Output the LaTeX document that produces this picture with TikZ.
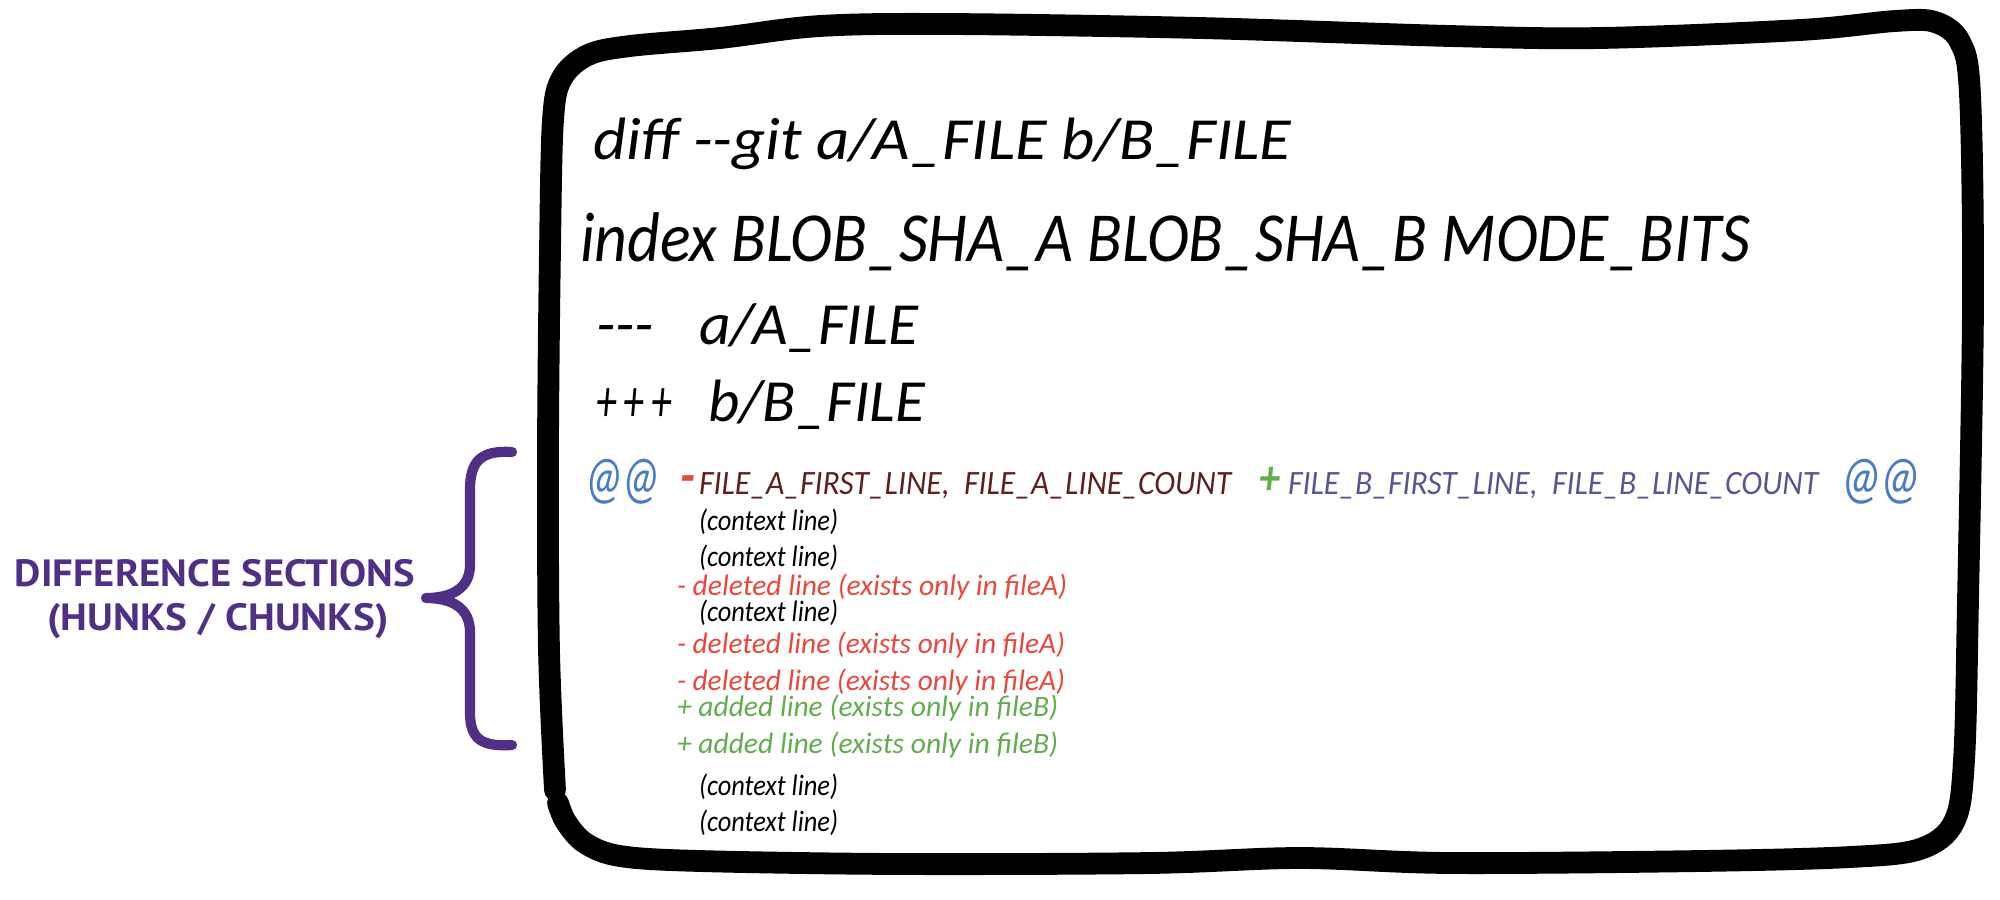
\documentclass[tikz,border=0pt]{standalone}
\usepackage{fontspec}
\usepackage{graphicx}
\setmainfont{Carlito}
\newfontfamily\labelfont{PT Sans}
\newcommand{\fitw}[2]{\resizebox{#1}{\height}{#2}}
\definecolor{hunkpurple}{RGB}{80,48,134}
\definecolor{atblue}{RGB}{74,124,196}
\definecolor{delred}{RGB}{232,72,60}
\definecolor{addgreen}{RGB}{98,172,78}
\definecolor{fileamaroon}{RGB}{92,32,30}
\definecolor{filebslate}{RGB}{86,86,146}

\begin{document}
\begin{tikzpicture}[x=0.01cm, y=-0.01cm,
    every node/.style={inner sep=0pt, outer sep=0pt, anchor=base west},
    hand/.style={font=\fontsize{#1}{#1}\selectfont\itshape},
    small/.style={hand=8.4pt, anchor=west},
    hunklabel/.style={font=\fontsize{10.8pt}{12pt}\selectfont\labelfont\bfseries, text=hunkpurple, anchor=center}]
    \useasboundingbox (0,0) rectangle (2000,899);
    \draw[line width=6.2pt, line cap=round, line join=round] plot[smooth, tension=0.55] coordinates {
        (555,790) (549,650) (548,450) (550,250) (553,120) (562,78) (588,55) (630,46) (720,38) (820,26)
        (950,24) (1200,28) (1450,36) (1600,38) (1800,30) (1895,21) (1935,22) (1960,42) (1970,95)
        (1973,300) (1968,600) (1964,760) (1954,822) (1920,849) (1850,857) (1700,861) (1450,863)
        (1300,858) (1150,863) (900,864) (700,861) (620,856) (585,843) (566,822) (558,803)};
    \node[hand=17pt] (diffline) at (593,159) {\fitw{6.98cm}{diff -{}-git a/A\_FILE b/B\_FILE}};
    \node[hand=20pt] (indexline) at (580,261) {\fitw{11.70cm}{index BLOB\_SHA\_A BLOB\_SHA\_B MODE\_BITS}};
    \node[hand=17pt] (oldmark) at (596,344) {\fitw{0.58cm}{-{}-{}-}};
    \node[hand=17pt] (oldfile) at (699,344) {\fitw{2.19cm}{a/A\_FILE}};
    \node[hand=17pt] (newmark) at (596,421) {\fitw{0.76cm}{+\,+\,+}};
    \node[hand=17pt] (newfile) at (708,421) {\fitw{2.17cm}{b/B\_FILE}};
    \node[hand=17pt, text=atblue] (atleft) at (584,497) {\fitw{0.77cm}{@\kern-1pt@}};
    \node[hand=16pt, text=delred] (hunkminus) at (680,494) {\fitw{0.15cm}{\bfseries -}};
    \node[hand=9.7pt, text=fileamaroon] (filearange) at (699,494) {\fitw{5.32cm}{FILE\_A\_FIRST\_LINE,\ \ FILE\_A\_LINE\_COUNT}};
    \node[hand=14pt, text=addgreen] (hunkplus) at (1259,494) {\fitw{0.21cm}{\bfseries +}};
    \node[hand=9.7pt, text=filebslate] (filebrange) at (1288,494) {\fitw{5.30cm}{FILE\_B\_FIRST\_LINE,\ \ FILE\_B\_LINE\_COUNT}};
    \node[hand=17pt, text=atblue] (atright) at (1840,497) {\fitw{0.82cm}{@\kern-1pt@}};
    \node[small] (ctxa) at (699,522) {\fitw{1.39cm}{(context line)}};
    \node[small] (ctxb) at (699,558) {\fitw{1.39cm}{(context line)}};
    \node[small, text=delred] (dela) at (677,587) {\fitw{3.90cm}{- deleted line (exists only in fileA)}};
    \node[small] (ctxc) at (699,613) {\fitw{1.39cm}{(context line)}};
    \node[small, text=delred] (delb) at (677,645) {\fitw{3.88cm}{- deleted line (exists only in fileA)}};
    \node[small, text=delred] (delc) at (677,682) {\fitw{3.88cm}{- deleted line (exists only in fileA)}};
    \node[small, text=addgreen] (adda) at (677,708) {\fitw{3.81cm}{+ added line (exists only in fileB)}};
    \node[small, text=addgreen] (addb) at (677,745) {\fitw{3.81cm}{+ added line (exists only in fileB)}};
    \node[small] (ctxd) at (699,787) {\fitw{1.39cm}{(context line)}};
    \node[small] (ctxe) at (699,823) {\fitw{1.39cm}{(context line)}};
    \node[hunklabel] (labeltop) at (215,573) {\fitw{4.00cm}{DIFFERENCE SECTIONS}};
    \node[hunklabel] (labelbot) at (218,621) {\fitw{3.41cm}{(HUNKS / CHUNKS)}};
    \draw[hunkpurple, line width=2.9pt, line cap=round, line join=round]
        (512,452) .. controls (480,450) and (470,462) .. (470,490) -- (470,565)
        .. controls (470,588) and (452,598) .. (426,598) .. controls (452,598) and (470,608) .. (470,632)
        -- (470,712) .. controls (470,738) and (480,747) .. (512,745);
\end{tikzpicture}
\end{document}
